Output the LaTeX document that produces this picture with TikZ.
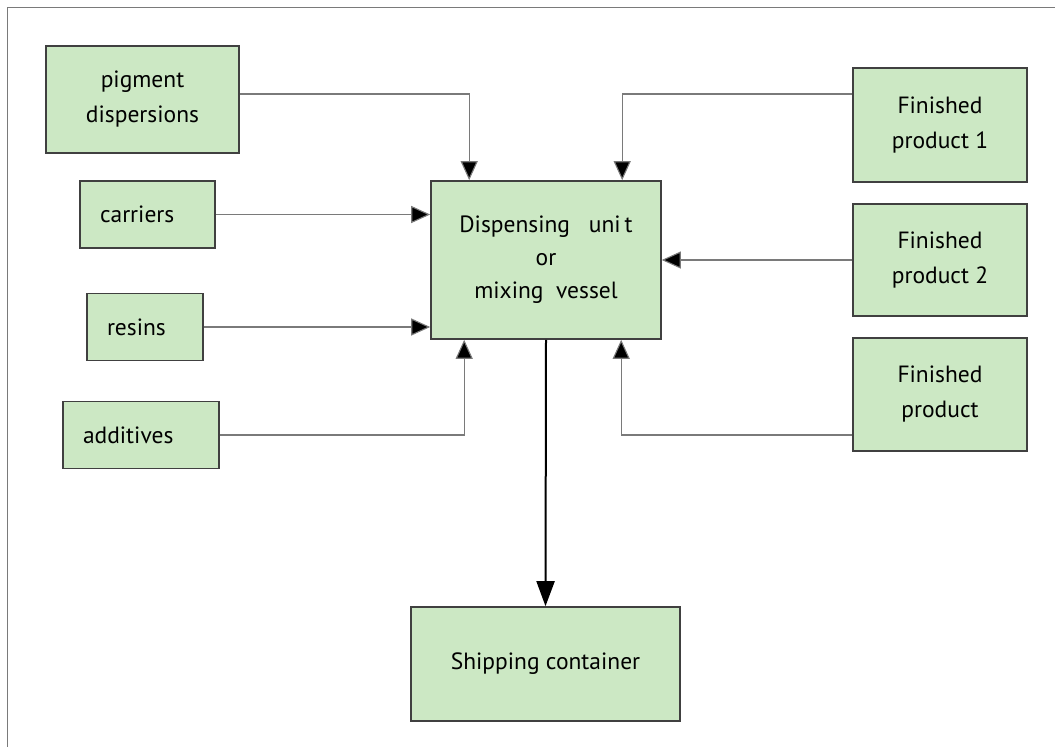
\documentclass[tikz,border=0pt]{standalone}
\usepackage{fontspec}
\setmainfont{PT Sans}
\usetikzlibrary{arrows.meta}

\definecolor{boxgreen}{HTML}{CCE8C4}
\definecolor{boxline}{HTML}{404040}
\definecolor{linkgray}{HTML}{7A7A7A}

\tikzset{bloc/.style = {draw = boxline, line width = 1.6pt, fill = boxgreen,
                        align = center, font = \fontsize{23.5}{35}\selectfont},
         petit/.style = {bloc, text width = #1, align = left, inner xsep = 20pt,
                         minimum height = 67pt},
         lien/.style = {draw = linkgray, line width = 1.1pt,
                        -{Triangle[length=19pt,width=17pt,fill=black]}}
        }

\begin{document}
\begin{tikzpicture}[x=1pt,y=-1pt]
\useasboundingbox (0,0) rectangle (1055,747);
\draw[draw = linkgray, line width = 1.2pt] (7.5,747) -- (7.5,7.5) -- (1055,7.5);
\node[bloc, minimum width = 193pt, minimum height = 107pt] at (142.5,99.5) (pd) {pigment\\dispersions};
\node[petit = 95pt] at (147.5,214.5) (ca) {carriers};
\node[petit = 76pt] at (145,327) (re) {resins};
\node[petit = 116pt] at (141,435) (ad) {additives};
\node[bloc, minimum width = 230pt, minimum height = 158pt, font = \fontsize{23.5}{33}\selectfont] at (546,260) (du) {Dispensing\ \ \ uni\,t\\or\\mixing\ \ vessel};
\node[bloc, minimum width = 174pt, minimum height = 114pt] at (940,125) (f1) {Finished\\product 1};
\node[bloc, minimum width = 174pt, minimum height = 112pt] at (940,260) (f2) {Finished\\product 2};
\node[bloc, minimum width = 174pt, minimum height = 113pt] at (940,394.5) (f3) {Finished\\product};
\node[bloc, minimum width = 269pt, minimum height = 114pt] at (545.5,664) (sc) {Shipping container};
\draw[lien] ([yshift=5.5pt]pd.east) -| ([xshift=39pt]du.north west);
\draw[lien] (ca.east) -- (ca.east -| du.west);
\draw[lien] (re.east) -- (re.east -| du.west);
\draw[lien] (ad.east) -| ([xshift=34pt]du.south west);
\draw[lien] ([yshift=31pt]f1.west) -| ([xshift=192pt]du.north west);
\draw[lien] (f2.west) -- (f2.west -| du.east);
\draw[lien] ([yshift=-40.5pt]f3.west) -| ([xshift=191pt]du.south west);
\draw[line width = 2pt, -{Triangle[length=25pt,width=18pt]}] (du.south) -- (sc.north);
\end{tikzpicture}
\end{document}
